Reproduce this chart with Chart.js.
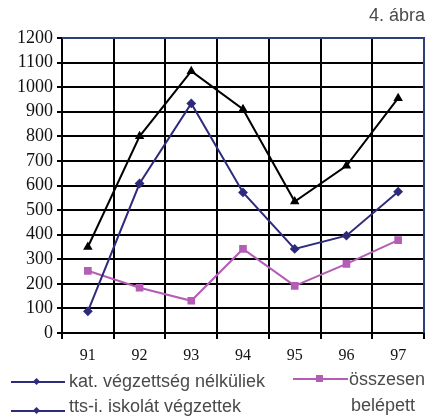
<!DOCTYPE html>
<html>
<head>
<meta charset="utf-8">
<script src="https://cdn.jsdelivr.net/npm/chart.js@4"></script>
<style>
  html, body { margin: 0; padding: 0; background: #fff; }
  #wrap { position: relative; width: 430px; height: 416px; overflow: hidden; }
  canvas { position: absolute; left: 0; top: 0; }
  .txt { position: absolute; font-family: "Liberation Sans", Arial, sans-serif; color: #4a4a4a; font-size: 18px; white-space: nowrap; line-height: 1; }
  .lline { position: absolute; height: 2px; }
  .mk { position: absolute; }
</style>
</head>
<body>
<div id="wrap">
  <canvas id="c" width="430" height="416"></canvas>
  <div class="txt" id="title" style="right:5px; top:6px;">4. ábra</div>
  <div class="lline" style="left:11px; top:381px; width:54px; background:#2e2b7c;"></div>
  <div class="mk" style="left:34px; top:379px; width:5px; height:5px; background:#2e2b7c; transform:rotate(45deg);"></div>
  <div class="txt" style="left:69px; top:372px;">kat. végzettség nélküliek</div>
  <div class="lline" style="left:11px; top:410px; width:54px; background:#2e2b7c;"></div>
  <div class="mk" style="left:34px; top:408px; width:5px; height:5px; background:#2e2b7c; transform:rotate(45deg);"></div>
  <div class="txt" style="left:69px; top:397px;">tts-i. iskolát végzettek</div>
  <div class="lline" style="left:293px; top:378px; width:55px; background:#b45db5;"></div>
  <div class="mk" style="left:316px; top:375px; width:7px; height:7px; background:#b45db5;"></div>
  <div class="txt" style="left:349px; top:370px;">összesen</div>
  <div class="txt" style="left:351px; top:396px;">belépett</div>
</div>
<script>
const categories = ["91", "92", "93", "94", "95", "96", "97"];
const blackSeries = [350, 800, 1065, 910, 535, 680, 955];
const navySeries = [88, 608, 934, 572, 342, 396, 575];
const magentaSeries = [253, 184, 131, 342, 192, 281, 378];
const yMin = 0, yMax = 1200, yStep = 100;

const borderPlugin = {
  id: 'frameBorder',
  afterDraw(chart) {
    const { ctx, chartArea } = chart;
    ctx.save();
    ctx.strokeStyle = '#2b3f78';
    ctx.lineWidth = 2;
    ctx.beginPath();
    ctx.moveTo(chartArea.left, chartArea.top);
    ctx.lineTo(chartArea.right, chartArea.top);
    ctx.lineTo(chartArea.right, chartArea.bottom);
    ctx.stroke();
    ctx.restore();
  }
};

new Chart(document.getElementById('c'), {
  type: 'line',
  data: {
    labels: categories,
    datasets: [
      { data: blackSeries, borderColor: '#000', backgroundColor: '#000', borderWidth: 2,
        pointStyle: 'triangle', pointRadius: 3.5, tension: 0 },
      { data: navySeries, borderColor: '#2e2b7c', backgroundColor: '#2e2b7c', borderWidth: 2,
        pointStyle: 'rectRot', pointRadius: 3.5, tension: 0 },
      { data: magentaSeries, borderColor: '#b45db5', backgroundColor: '#b45db5', borderWidth: 2,
        pointStyle: 'rect', pointRadius: 4, tension: 0 }
    ]
  },
  options: {
    responsive: false,
    animation: false,
    layout: { padding: { top: 38, right: 2, left: 0, bottom: 0 } },
    plugins: { legend: { display: false }, title: { display: false }, tooltip: { enabled: false } },
    scales: {
      x: {
        offset: true,
        grid: { offset: true, color: '#000', lineWidth: 2, tickLength: 6, drawOnChartArea: true },
        border: { color: '#000', width: 2 },
        ticks: { autoSkip: false, color: '#111', font: { family: '"Liberation Serif", "Times New Roman", serif', size: 16 }, padding: 7, maxRotation: 0 },
        afterFit(s) { s.height = 83; }
      },
      y: {
        min: yMin, max: yMax,
        grid: { color: '#000', lineWidth: 2, tickLength: 5 },
        border: { color: '#000', width: 2 },
        ticks: { autoSkip: false, stepSize: yStep, color: '#111', font: { family: '"Liberation Serif", "Times New Roman", serif', size: 18 }, padding: 4,
          callback: (v) => String(v) },
        afterFit(s) { s.width = 62; }
      }
    }
  },
  plugins: [borderPlugin]
});
</script>
</body>
</html>
